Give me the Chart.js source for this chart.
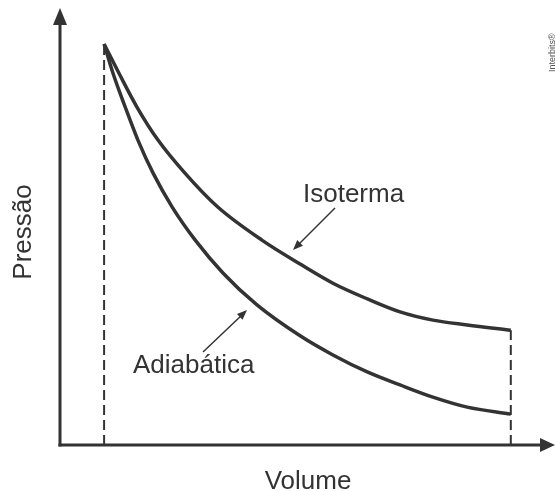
<!DOCTYPE html>
<html>
<head>
<meta charset="utf-8">
<script src="https://cdn.jsdelivr.net/npm/chart.js@4"></script>
<style>
  html,body{margin:0;padding:0;background:#fff;}
  #wrap{width:555px;height:491px;position:relative;}
</style>
</head>
<body>
<div id="wrap"><canvas id="pv"></canvas></div>
<script>
/* ── DATA (arbitrary units) ── */
const isoV = [0.90, 1.22, 1.57, 2.00, 2.55, 3.22, 4.12, 4.90, 5.57, 6.27, 6.94, 7.61, 8.31, 9.20];
const isoP = [9.22, 8.51, 7.77, 7.01, 6.25, 5.47, 4.71, 4.16, 3.72, 3.36, 3.06, 2.87, 2.76, 2.64];
const adiV = [0.90, 1.08, 1.33, 1.59, 1.90, 2.29, 2.76, 3.33, 4.02, 4.90, 5.57, 6.27, 6.94, 7.61, 8.31, 9.20];
const adiP = [9.22, 8.55, 7.77, 7.01, 6.25, 5.47, 4.71, 3.95, 3.22, 2.51, 2.07, 1.68, 1.38, 1.10, 0.87, 0.71];
const seriesNames = ['Isoterma', 'Adiabática'];
const axisNames = ['Volume', 'Pressão'];

const ink = '#333333';
const pts = (xs, ys) => xs.map((x, i) => ({x, y: ys[i]}));

/* dashed guides from curve ends down to the V axis */
const guideL = [{x: isoV[0], y: 0}, {x: isoV[0], y: isoP[0]}];
const guideR = [{x: isoV[isoV.length-1], y: 0}, {x: isoV[isoV.length-1], y: isoP[isoP.length-1]}];

function arrowHead(ctx, x1, y1, x2, y2, len, half){
  const a = Math.atan2(y2-y1, x2-x1);
  ctx.beginPath();
  ctx.moveTo(x2, y2);
  ctx.lineTo(x2 - len*Math.cos(a) + half*Math.sin(a), y2 - len*Math.sin(a) - half*Math.cos(a));
  ctx.lineTo(x2 - len*Math.cos(a) - half*Math.sin(a), y2 - len*Math.sin(a) + half*Math.cos(a));
  ctx.closePath();
  ctx.fill();
}

/* ── AXES, LABELS, POINTER ARROWS ── */
const decor = {
  id: 'decor',
  beforeDatasetsDraw(chart){
    const {ctx, chartArea: ca} = chart;
    ctx.save();
    ctx.strokeStyle = ink; ctx.fillStyle = ink;
    ctx.lineWidth = 3;
    // y axis
    ctx.beginPath(); ctx.moveTo(ca.left, ca.bottom + 1.5); ctx.lineTo(ca.left, 20); ctx.stroke();
    arrowHead(ctx, ca.left, 100, ca.left, 8, 17, 7);
    // x axis
    ctx.beginPath(); ctx.moveTo(ca.left - 1.5, ca.bottom); ctx.lineTo(545, ca.bottom); ctx.stroke();
    arrowHead(ctx, 400, ca.bottom, 555, ca.bottom, 15, 7);
    ctx.restore();
  },
  afterDatasetsDraw(chart){
    const {ctx} = chart;
    ctx.save();
    ctx.fillStyle = ink; ctx.strokeStyle = ink;
    ctx.font = '26px "Liberation Sans", Arial, sans-serif';
    ctx.textBaseline = 'alphabetic';
    ctx.textAlign = 'left';
    ctx.fillText(seriesNames[0], 303, 202);
    ctx.fillText(seriesNames[1], 133, 373);
    ctx.textAlign = 'center';
    ctx.fillText(axisNames[0], 308, 489);
    ctx.save();
    ctx.translate(31, 232); ctx.rotate(-Math.PI/2);
    ctx.fillText(axisNames[1], 0, 0);
    ctx.restore();
    // pointer arrows
    ctx.lineWidth = 1.5;
    ctx.beginPath(); ctx.moveTo(335, 208); ctx.lineTo(297, 246); ctx.stroke();
    arrowHead(ctx, 335, 208, 293, 250, 10, 4);
    ctx.beginPath(); ctx.moveTo(203, 352); ctx.lineTo(243, 314); ctx.stroke();
    arrowHead(ctx, 203, 352, 247, 310, 10, 4);
    // credit
    ctx.fillStyle = '#555';
    ctx.font = '9px "Liberation Sans", Arial, sans-serif';
    ctx.textAlign = 'left';
    ctx.translate(555, 72); ctx.rotate(-Math.PI/2);
    ctx.fillText('Interbits®', 0, 0);
    ctx.restore();
  }
};

new Chart(document.getElementById('pv'), {
  type: 'scatter',
  data: {
    datasets: [
      {label: seriesNames[0], data: pts(isoV, isoP), showLine: true, borderColor: ink, borderWidth: 3.5,
       pointRadius: 0, cubicInterpolationMode: 'monotone', borderJoinStyle: 'round'},
      {label: seriesNames[1], data: pts(adiV, adiP), showLine: true, borderColor: ink, borderWidth: 3.5,
       pointRadius: 0, cubicInterpolationMode: 'monotone', borderJoinStyle: 'round'},
      {data: guideL, showLine: true, borderColor: ink, borderWidth: 2, borderDash: [10, 5], pointRadius: 0},
      {data: guideR, showLine: true, borderColor: ink, borderWidth: 2, borderDash: [10, 5], pointRadius: 0}
    ]
  },
  options: {
    responsive: true,
    maintainAspectRatio: false,
    animation: false,
    layout: {padding: {left: 60, right: 5, top: 10, bottom: 46}},
    scales: {
      x: {type: 'linear', min: 0, max: 10, display: false},
      y: {type: 'linear', min: 0, max: 10, display: false}
    },
    plugins: {legend: {display: false}, tooltip: {enabled: false}}
  },
  plugins: [decor]
});
</script>
</body>
</html>
